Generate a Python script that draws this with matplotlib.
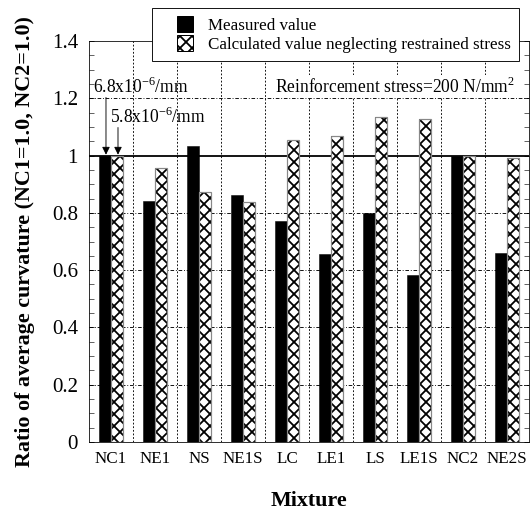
import matplotlib
matplotlib.use('Agg')
import matplotlib.pyplot as plt
import numpy as np
from matplotlib.patches import Patch, Rectangle
from matplotlib.legend_handler import HandlerPatch

plt.rcParams['font.family'] = ['Liberation Serif', 'DejaVu Serif']
plt.rcParams['mathtext.fontset'] = 'custom'
plt.rcParams['mathtext.rm'] = 'Liberation Serif'
plt.rcParams['hatch.linewidth'] = 1.8

# data
mixtures = ['NC1', 'NE1', 'NS', 'NE1S', 'LC', 'LE1', 'LS', 'LE1S', 'NC2', 'NE2S']
measured = [1.0, 0.843, 1.035, 0.864, 0.773, 0.657, 0.80, 0.584, 1.0, 0.661]
calculated = [1.0, 0.958, 0.874, 0.839, 1.056, 1.070, 1.133, 1.129, 1.0, 0.99]
y_ticks = [0, 0.2, 0.4, 0.6, 0.8, 1, 1.2, 1.4]
y_tick_labels = ['0', '0.2', '0.4', '0.6', '0.8', '1', '1.2', '1.4']


def square_handle(legend, orig_handle, xdescent, ydescent, width, height, fontsize):
    # square sitting at the right end of the handle box
    s = 16
    return Rectangle((width - s - xdescent, (height - s) / 2 - ydescent), s, s)


fig = plt.figure(figsize=(530 / 72, 510 / 72), dpi=72)
ax = fig.add_axes([89 / 530, 68 / 510, 440 / 530, 401 / 510])

x = np.arange(len(mixtures))
w = 0.27

# grid lines
for yv in [0.2, 0.4, 0.6, 0.8, 1.2]:
    ax.axhline(yv, color='black', lw=0.9, ls=(0, (4, 2, 1, 2)), zorder=0)
for xv in x[:-1] + 0.5:
    ax.axvline(xv, color='black', lw=0.9, ls=(0, (2, 2)), zorder=0)
ax.axhline(1.0, color='black', lw=1.8, zorder=1)

ax.bar(x - w / 2, measured, w, color='black', edgecolor='black', lw=0.5, zorder=2)
ax.bar(x + w / 2, calculated, w, color='white', edgecolor='black', hatch='xx', lw=0, zorder=2)
ax.bar(x + w / 2, calculated, w, fill=False, edgecolor='#888888', lw=1.2, zorder=3)

ax.set_xlim(-0.5, len(mixtures) - 0.5)
ax.set_ylim(0, 1.4)
ax.set_xticks(x)
ax.set_xticklabels(mixtures, fontsize=17)
ax.set_yticks(y_ticks)
ax.set_yticklabels(y_tick_labels, fontsize=21)
ax.set_yticks(np.arange(0, 1.41, 0.05), minor=True)
ax.tick_params(axis='x', length=0, pad=9)
ax.tick_params(axis='y', which='both', direction='in', length=5, right=True, pad=11)

ax.set_ylabel('Ratio of average curvature (NC1=1.0, NC2=1.0)', fontsize=22,
              fontweight='bold', labelpad=17)
ax.set_xlabel('Mixture', fontsize=22, fontweight='bold', labelpad=24)

# annotations
ax.text(-0.41, 1.238, r'6.8x10$^{-6}$/mm', fontsize=17.5, va='center', ha='left')
ax.annotate('', xy=(-0.114, 1.003), xytext=(-0.114, 1.203),
            arrowprops=dict(arrowstyle='-|>', color='black', lw=0.9,
                            mutation_scale=16, shrinkA=0, shrinkB=0))
ax.text(-0.023, 1.136, r'5.8x10$^{-6}$/mm', fontsize=17.5, va='center', ha='left')
ax.annotate('', xy=(0.159, 1.003), xytext=(0.159, 1.098),
            arrowprops=dict(arrowstyle='-|>', color='black', lw=0.9,
                            mutation_scale=16, shrinkA=0, shrinkB=0))
ax.text(3.73, 1.241, r'Reinforcement stress=200 N/mm$^{2}$', fontsize=17.5,
        va='center', ha='left',
        bbox=dict(facecolor='white', edgecolor='none', pad=1))

handles = [Patch(facecolor='black', edgecolor='black'),
           Patch(facecolor='white', edgecolor='black', hatch='xx')]
leg = fig.legend(handles, ['Measured value', 'Calculated value neglecting restrained stress'],
                 loc='upper left', bbox_to_anchor=(152 / 530, 1 - 8 / 510),
                 fontsize=17, frameon=True, fancybox=False, framealpha=1,
                 edgecolor='black', handlelength=1.9, handleheight=0.95,
                 handletextpad=0.9, borderpad=0.5, labelspacing=0.12,
                 borderaxespad=0,
                 handler_map={Patch: HandlerPatch(patch_func=square_handle)})
leg.get_frame().set_linewidth(0.9)

fig.savefig('out.png', dpi=72)
